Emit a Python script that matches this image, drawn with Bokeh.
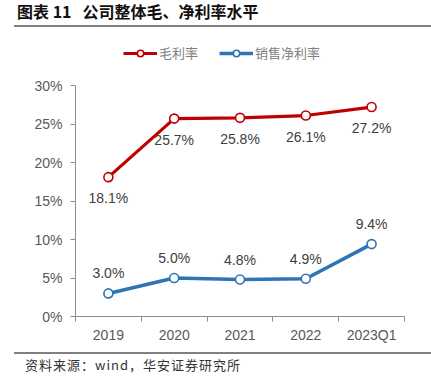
from bokeh.plotting import figure
from bokeh.models import (Range1d, FixedTicker, NumeralTickFormatter, ColumnDataSource,
                          LabelSet, Legend, LegendItem, Div)
from bokeh.layouts import column
from bokeh.embed import file_html
from bokeh.resources import INLINE
from bokeh.core.properties import value

# ---- data ----
categories = ["2019", "2020", "2021", "2022", "2023Q1"]
gross_margin = [0.181, 0.257, 0.258, 0.261, 0.272]
net_margin = [0.030, 0.050, 0.048, 0.049, 0.094]
gross_labels = ["18.1%", "25.7%", "25.8%", "26.1%", "27.2%"]
net_labels = ["3.0%", "5.0%", "4.8%", "4.9%", "9.4%"]
y_ticks = [0.0, 0.05, 0.10, 0.15, 0.20, 0.25, 0.30]
series_names = ["毛利率", "销售净利率"]

RED = "#C00000"
BLUE = "#2E75B6"
AXIS = "#8C8C8C"
TICK_TXT = "#595959"
LABEL_TXT = "#404040"
FONT = "Liberation Sans"
CJK = "Noto Sans CJK SC"
RULE = "#808080"

n = len(categories)
xs = [i + 0.5 for i in range(n)]

# layout (pixels)
FIG_W, FIG_H = 431, 317
B_LEFT, B_RIGHT, B_TOP, B_BOTTOM = 75, 27, 6, 35
FRAME_H = FIG_H - B_TOP - B_BOTTOM
AXIS_H = 231  # pixel height of the 0..30% axis
y_end = y_ticks[-1] * FRAME_H / AXIS_H

p = figure(width=FIG_W, height=FIG_H, output_backend="svg", toolbar_location=None,
           x_range=Range1d(0, n), y_range=Range1d(0, y_end),
           min_border_left=B_LEFT, min_border_right=B_RIGHT,
           min_border_top=B_TOP, min_border_bottom=B_BOTTOM, margin=0)
p.outline_line_color = None
p.xgrid.visible = False
p.ygrid.visible = False
p.background_fill_color = "white"
p.border_fill_color = "white"

src = ColumnDataSource(dict(x=xs, g=gross_margin, n=net_margin, gl=gross_labels, nl=net_labels))

rl = p.line("x", "g", source=src, line_color=RED, line_width=3.2)
rs = p.scatter("x", "g", source=src, size=9, fill_color="white", line_color=RED, line_width=1.6)
bl = p.line("x", "n", source=src, line_color=BLUE, line_width=3.6)
bs = p.scatter("x", "n", source=src, size=9, fill_color="white", line_color=BLUE, line_width=1.6)

p.add_layout(LabelSet(x="x", y="g", text="gl", source=src, y_offset=-21, text_align="center",
                      text_baseline="middle", text_font=value(FONT), text_font_size="14px",
                      text_color=LABEL_TXT))
p.add_layout(LabelSet(x="x", y="n", text="nl", source=src, y_offset=20, text_align="center",
                      text_baseline="middle", text_font=value(FONT), text_font_size="14px",
                      text_color=LABEL_TXT))

# axes
xa = p.xaxis[0]
xa.ticker = FixedTicker(ticks=xs, minor_ticks=list(range(n + 1)))
xa.major_label_overrides = {x: c for x, c in zip(xs, categories)}
xa.major_tick_line_color = None
xa.major_tick_out = 5
xa.major_tick_in = 0
xa.minor_tick_line_color = AXIS
xa.minor_tick_out = 5
xa.minor_tick_in = 0
xa.axis_line_color = AXIS
xa.major_label_text_font = FONT
xa.major_label_text_font_size = "14px"
xa.major_label_text_color = TICK_TXT
xa.major_label_standoff = 5

ya = p.yaxis[0]
ya.ticker = FixedTicker(ticks=y_ticks, minor_ticks=[])
ya.bounds = (y_ticks[0], y_ticks[-1])
ya.formatter = NumeralTickFormatter(format="0%")
ya.major_tick_line_color = AXIS
ya.major_tick_out = 5
ya.major_tick_in = 0
ya.minor_tick_line_color = None
ya.axis_line_color = AXIS
ya.major_label_text_font = FONT
ya.major_label_text_font_size = "14px"
ya.major_label_text_color = TICK_TXT
ya.major_label_standoff = 8

legend = Legend(items=[LegendItem(label=series_names[0], renderers=[rl, rs]),
                       LegendItem(label=series_names[1], renderers=[bl, bs])],
                orientation="horizontal", location=(48, 254),
                glyph_width=34, glyph_height=16, label_height=16, label_standoff=2,
                spacing=21, padding=0, margin=0,
                label_text_font=CJK, label_text_font_size="13px", label_text_color="#808080",
                border_line_color=None, background_fill_alpha=0)
p.add_layout(legend, "center")

title = Div(width=431, height=34, margin=0, text=(
    "<div style=\"font-family:'Noto Sans CJK SC';font-weight:bold;font-size:16px;color:#111;"
    "line-height:20px;padding-top:1px;padding-bottom:4px;margin-left:14px;padding-left:3px;"
    "padding-right:188px;border-bottom:2px solid #808080;white-space:nowrap\">"
    "图表 11&nbsp;&nbsp;&nbsp;公司整体毛、净利率水平</div>"))

source = Div(width=431, height=34, margin=0, text=(
    "<div style=\"font-family:'Noto Sans CJK SC';font-size:13px;color:#333;letter-spacing:1px;"
    "line-height:16px;margin-top:1px;margin-left:14px;padding-left:11px;padding-top:3px;"
    "padding-right:191px;border-top:2px solid #808080;white-space:nowrap\">"
    "资料来源：wind，华安证券研究所</div>"))

layout = column(title, p, source, spacing=0)

open("out.html", "w").write(file_html(layout, INLINE))
